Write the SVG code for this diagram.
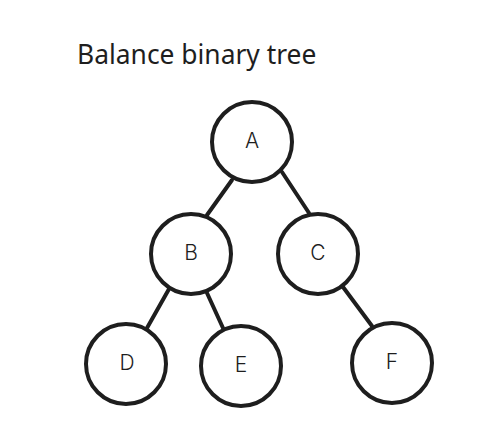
<svg xmlns="http://www.w3.org/2000/svg" width="495" height="432" viewBox="0 0 495 432">
<style>
.node circle{fill:#ffffff;stroke:#1e1e1e;stroke-width:4}
.node text{font-family:"Inter","Liberation Sans",sans-serif;font-weight:300;font-size:21px;fill:#1e1e1e;text-anchor:middle;dominant-baseline:central}
.edges line{stroke:#1e1e1e;stroke-width:4;stroke-linecap:round}
.title{font-family:"Noto Sans","Liberation Sans",sans-serif;font-size:26.4px;fill:#1e1e1e}
</style>
<rect width="495" height="432" fill="#ffffff"/>
<text class="title" x="77" y="64">Balance binary tree</text>
<g class="edges">
<line x1="232" y1="180" x2="207" y2="215"/>
<line x1="282" y1="172" x2="309" y2="213"/>
<line x1="169" y1="289" x2="147" y2="328"/>
<line x1="207" y1="293" x2="223" y2="328"/>
<line x1="343" y1="287" x2="372" y2="326"/>
</g>
<g id="A" class="node"><circle cx="252" cy="142" r="40"/><text x="252" y="140">A</text></g>
<g id="B" class="node"><circle cx="191" cy="254" r="40"/><text x="191" y="252">B</text></g>
<g id="C" class="node"><circle cx="318" cy="254" r="40"/><text x="318" y="252">C</text></g>
<g id="D" class="node"><circle cx="126" cy="364" r="40"/><text x="127" y="362">D</text></g>
<g id="E" class="node"><circle cx="241" cy="366" r="40"/><text x="241" y="364">E</text></g>
<g id="F" class="node"><circle cx="392" cy="363" r="40"/><text x="392" y="361">F</text></g>
</svg>
